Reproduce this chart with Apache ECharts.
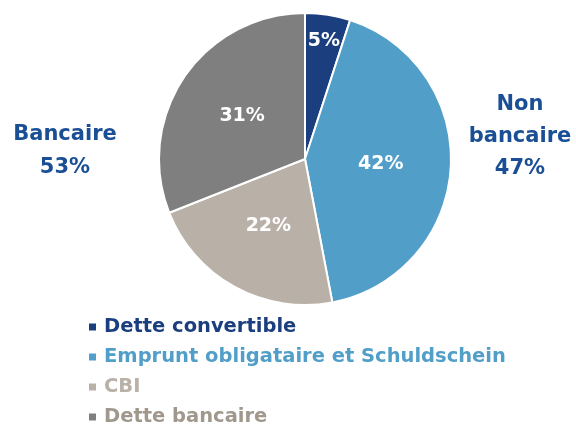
<!DOCTYPE html>
<html>
<head>
<meta charset="utf-8">
<script src="https://cdn.jsdelivr.net/npm/echarts@6/dist/echarts.min.js"></script>
<style>
    html, body { margin: 0; padding: 0; background: #fff; }
    #chart { width: 576px; height: 426px; }
</style>
</head>
<body>
<div id="chart"></div>
<script>
// données
const categories = ['Dette convertible', 'Emprunt obligataire et Schuldschein', 'CBI', 'Dette bancaire']
const values = [5, 42, 22, 31]
const sliceColors = ['#1b3f7e', '#519ec9', '#b9b1a7', '#7f7f7f']
const legendTextColors = ['#1b3f7e', '#519ec9', '#b9b1a7', '#a0988d']
const groupLeft = ['Bancaire', '53%']
const groupRight = ['Non', 'bancaire', '47%']

const font = '"DejaVu Sans", Verdana, sans-serif'
const chart = echarts.init(document.getElementById('chart'))

const pieData = categories.map((name, i) => {
    const item = {
        name: name,
        value: values[i],
        itemStyle: { color: sliceColors[i] },
    }
    // le petit secteur a son libellé plus près du bord
    if (i === 0) {
        item.label = { offset: [7, -43] }
    }
    return item
})

const option = {
    animation: false,
    legend: {
        orient: 'vertical',
        left: 82,
        top: 312,
        height: 120,
        icon: 'rect',
        itemWidth: 9,
        itemHeight: 9,
        itemGap: 10,
        selectedMode: false,
        textStyle: { fontFamily: font, fontSize: 19.5, fontWeight: 'bold', padding: [0, 0, 0, 2] },
        data: categories.map((name, i) => ({
            name: name,
            textStyle: { color: legendTextColors[i] },
        })),
    },
    graphic: [
        {
            type: 'text',
            x: 65,
            y: 118,
            style: {
                text: groupLeft.join('\n'),
                fill: '#1a4f96',
                font: 'bold 21px ' + font,
                textAlign: 'center',
                textVerticalAlign: 'top',
                lineHeight: 33,
            },
        },
        {
            type: 'text',
            x: 520,
            y: 89,
            style: {
                text: groupRight.join('\n'),
                fill: '#1a4f96',
                font: 'bold 21px ' + font,
                textAlign: 'center',
                textVerticalAlign: 'top',
                lineHeight: 32,
            },
        },
    ],
    series: [
        {
            type: 'pie',
            center: [305, 159],
            radius: [0, 146],
            startAngle: 90,
            clockwise: true,
            data: pieData,
            itemStyle: { borderColor: '#fff', borderWidth: 2 },
            label: {
                show: true,
                position: 'inner',
                formatter: '{c}%',
                color: '#fff',
                fontFamily: font,
                fontSize: 19,
                fontWeight: 'bold',
            },
            labelLine: { show: false },
            emphasis: { disabled: true },
        },
    ],
}
chart.setOption(option)
</script>
</body>
</html>
